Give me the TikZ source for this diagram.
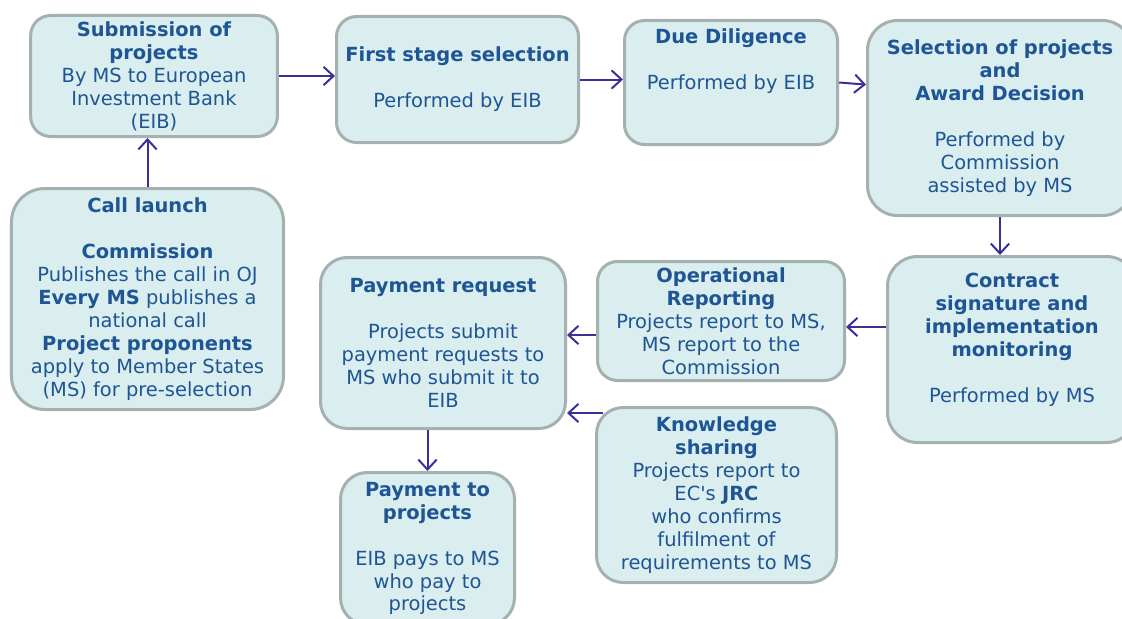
\documentclass[tikz,border=0pt]{standalone}
\usepackage{fontspec}
\setmainfont{DejaVu Sans}
\usetikzlibrary{arrows.meta}

\definecolor{boxFill}{HTML}{DAEDEF}
\definecolor{boxLine}{HTML}{A5B1B1}
\definecolor{boxText}{HTML}{1E5594}
\definecolor{flowArrow}{HTML}{3A3098}

\begin{document}
\begin{tikzpicture}
            [x=0.3mm, y=-0.3mm,
             myBox/.style={rectangle,
                        rounded corners=6mm,
                        draw=boxLine,
                        fill=boxFill,
                        line width=0.9mm,
                        text=boxText,
                        align=center,
                        inner sep=0pt,
                        font=\fontsize{16.6}{19.6}\selectfont},
             myArrow/.style={-{Straight Barb[length=3mm,width=5.5mm]},
                        draw=flowArrow,
                        line width=0.6mm}]

            \clip (0,0) rectangle (1122,619);

            \node[myBox, minimum width=74mm, minimum height=36.3mm] (submission) at (154,76) {\textbf{Submission of}\\\textbf{projects}\\By MS to European\\Investment Bank\\(EIB)};
            \node[myBox, minimum width=72.6mm, minimum height=37.8mm] (firstStage) at (457.5,79.5) {\textbf{First stage selection}\\ \mbox{}\\Performed by EIB};
            \node[myBox, minimum width=63.9mm, minimum height=37.2mm] (dueDiligence) at (731,82.5) {\textbf{Due Diligence}\\ \mbox{}\\Performed by EIB\\ \mbox{}\\ \mbox{}};
            \node[myBox, rounded corners=9mm, minimum width=79.5mm, minimum height=58.5mm] (selection) at (1000,118) {\textbf{Selection of projects}\\\textbf{and}\\\textbf{Award Decision}\\ \mbox{}\\Performed by\\Commission\\assisted by MS};
            \node[myBox, rounded corners=9mm, minimum width=74.7mm, minimum height=55.8mm] (contract) at (1012,349.5) {\textbf{Contract}\\\textbf{signature and}\\\textbf{implementation}\\\textbf{monitoring}\\ \mbox{}\\Performed by MS\\ \mbox{}};
            \node[myBox, minimum width=74.1mm, minimum height=35.7mm] (operational) at (721,321) {\textbf{Operational}\\\textbf{Reporting}\\Projects report to MS,\\MS report to the\\Commission};
            \node[myBox, rounded corners=8mm, minimum width=73.5mm, minimum height=51.3mm] (paymentRequest) at (443,343) {\textbf{Payment request}\\ \mbox{}\\Projects submit\\payment requests to\\MS who submit it to\\EIB};
            \node[myBox, rounded corners=8mm, minimum width=72mm, minimum height=52.5mm] (knowledge) at (716.5,495) {\textbf{Knowledge}\\\textbf{sharing}\\Projects report to\\EC\textquotesingle s \textbf{JRC}\\who confirms\\fulfilment of\\requirements to MS};
            \node[myBox, rounded corners=8mm, minimum width=52.2mm, minimum height=45.6mm] (paymentProjects) at (427.5,548.5) {\textbf{Payment to}\\\textbf{projects}\\ \mbox{}\\EIB pays to MS\\who pay to\\projects};
            \node[myBox, rounded corners=10mm, minimum width=81.6mm, minimum height=66.3mm] (callLaunch) at (147.5,299) {\textbf{Call launch}\\ \mbox{}\\\textbf{Commission}\\Publishes the call in OJ\\\textbf{Every MS} publishes a\\national call\\\textbf{Project proponents}\\apply to Member States\\(MS) for pre-selection};

            \draw [myArrow] (callLaunch.north) to (callLaunch.north |- submission.south);
            \draw [myArrow] (submission.east) to (submission.east -| firstStage.west);
            \draw [myArrow] (firstStage.east) to (firstStage.east -| dueDiligence.west);
            \draw [myArrow] (dueDiligence.east) to (selection.166);
            \draw [myArrow] (selection.south) to (selection.south |- contract.north);
            \draw [myArrow] ([yshift=-1.8mm]operational.east -| contract.west) to ([yshift=-1.8mm]operational.east);
            \draw [myArrow] ([yshift=-4.2mm]operational.west) to ([yshift=-4.2mm]operational.west -| paymentRequest.east);
            \draw [myArrow] ([xshift=2.4mm,yshift=-2.1mm]knowledge.north west) to ([yshift=-2.1mm]knowledge.north west -| paymentRequest.east);
            \draw [myArrow] (paymentProjects.north |- paymentRequest.south) to (paymentProjects.north);
        \end{tikzpicture}
\end{document}
